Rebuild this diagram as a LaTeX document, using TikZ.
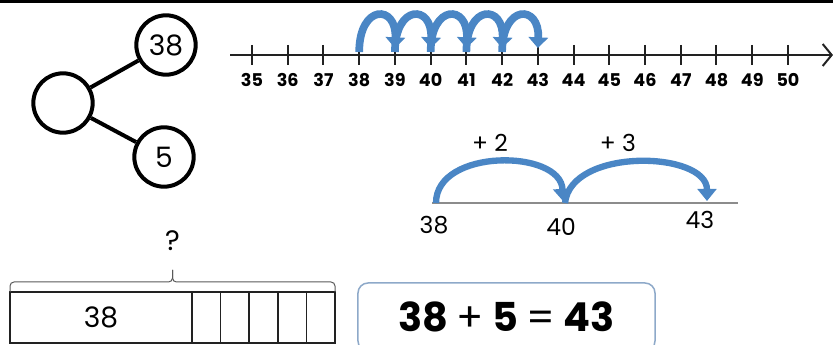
\documentclass[tikz,border=0pt]{standalone}
\usepackage{fontspec}
\setmainfont{Poppins}
\usetikzlibrary{arrows.meta, positioning}
\definecolor{sprung}{HTML}{4A86C5}
\definecolor{rahmen}{HTML}{8EA9C9}
\definecolor{strich}{HTML}{222222}

\begin{document}
\begin{tikzpicture}[x=0.03cm, y=-0.03cm,
    bond/.style={draw, circle, line width=1.2mm, minimum size=1.78cm, inner sep=0pt,
                 font=\fontsize{24}{28}\selectfont},
    link/.style={line width=1.2mm},
    axis/.style={line width=0.6mm, strich},
    tickmark/.style={line width=0.6mm, strich},
    num/.style={font=\fontsize{15}{17}\selectfont\bfseries},
    jump/.style={line width=2.3mm, sprung, -{Triangle[length=3.2mm, width=5.8mm]}},
    bigjump/.style={line width=1.9mm, sprung, -{Triangle[length=3.6mm, width=5.6mm]}},
    cell/.style={draw, strich, line width=0.45mm, outer sep=0pt, inner sep=0pt,
                 minimum height=1.53cm, text=black},
    lbl/.style={font=\fontsize{20}{24}\selectfont},
    brace/.style={line width=0.3mm, black!65, rounded corners=0.12cm}
  ]
  \useasboundingbox (0,0) rectangle (833,345);
  % top border
  \fill (0,0) rectangle (833,3);

  % number bond
  \node[bond] (whole) at (63,103) {};
  \node[bond] (partA) at (166,45)  {38};
  \node[bond] (partB) at (164,157) {5};
  \draw[link] (whole) -- (partA);
  \draw[link] (whole) -- (partB);

  % number line 35..50
  \coordinate (lineStart) at (230,55);
  \coordinate (lineEnd) at (833,55);
  \draw[axis, -{Straight Barb[length=2.7mm, width=6.6mm]}] (lineStart) -- (lineEnd);
  \foreach \n [count=\i from 0] in {35,...,50} {
    \coordinate (t\n) at (252+35.73*\i,55);
    \draw[tickmark] (t\n) ++(0,-10) -- ++(0,20);
    \node[num] (n\n) at ([yshift=-0.75cm]t\n) {\n};
  }

  % jumps of one
  \foreach \a/\b in {38/39, 39/40, 40/41, 41/42, 42/43} {
    \draw[jump] ([yshift=0.09cm]t\a) .. controls +(0,-48) and +(2,-44) .. ([yshift=0.21cm]t\b);
  }

  % empty number line
  \coordinate (sStart) at (432,203);
  \coordinate (sEnd) at (738,203);
  \coordinate (s38) at (436,203);
  \coordinate (s40) at (563,203);
  \coordinate (s43) at (707,203);
  \draw[line width=0.4mm, black!45] (sStart) -- (sEnd);
  \draw[bigjump] (s38) .. controls +(0,-55) and +(-2,-52) .. ([yshift=0.06cm]s40);
  \draw[bigjump] ([xshift=0.06cm]s40) .. controls +(6,-56) and +(0,-50) .. ([yshift=0.06cm]s43);
  \node[lbl] (l38) at (434,225) {38};
  \node[lbl] (l40) at (561,227) {40};
  \node[lbl] (l43) at (700,220) {43};
  \node[lbl] (plus2) at (490,143) {+ 2};
  \node[lbl] (plus3) at (618,143) {+ 3};

  % bar model
  \node[cell, minimum width=5.46cm, font=\fontsize{24}{28}\selectfont] (bar38) at (101,317.5) {38};
  \node[cell, minimum width=0.858cm, right=0pt of bar38] (c1) {};
  \foreach \i [count=\j from 1] in {2,...,5} {
    \node[cell, minimum width=0.858cm, right=0pt of c\j] (c\i) {};
  }
  \draw[brace] (10,292) -- (10,282) -- (172.5,282) -- (172.5,270);
  \draw[brace] (335,292) -- (335,282) -- (172.5,282) -- (172.5,270);
  \node[font=\fontsize{24}{28}\selectfont] (frage) at (172.5,241) {?};

  % equation
  \node[draw=rahmen, line width=0.45mm, rounded corners=0.3cm, minimum width=8.91cm,
        minimum height=2.04cm, font=\fontsize{34}{40}\selectfont\bfseries]
        (gleichung) at (506.5,317) {38 {\mdseries +} 5 {\mdseries =} 43};
\end{tikzpicture}
\end{document}
